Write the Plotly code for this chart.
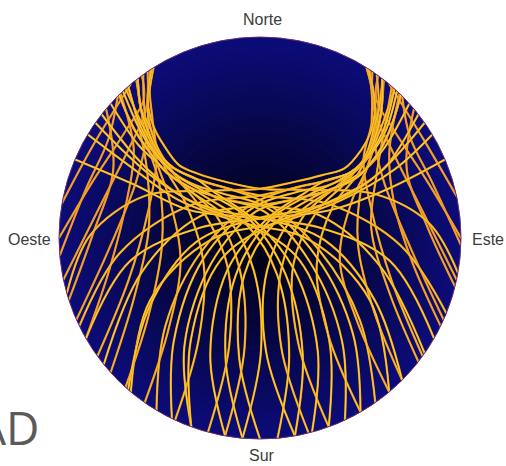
import plotly.graph_objects as go

# ---- Sky tracks (azimuth deg clockwise from North, elevation deg) ----
# passes that leave the sky towards the north-west
west_az = [
    [100, 85, 69, 46, 1, 329.5, 316, 312, 314, 316, 319.5, 323.5, 327.5],
    [112, 93, 64, 1, 326, 313, 309, 310.5, 314, 317.5, 322.5],
    [125, 103, 69, 2, 317, 306, 305, 308, 311, 315.5],
    [135, 118.5, 92, 3, 305, 298, 300, 303, 308],
    [145, 129.5, 101.5, 15, 326, 313, 309, 310.5, 314, 317.5, 322.5],
    [155, 141.5, 116, 9, 317, 306, 305, 308, 311, 315.5],
    [165, 153, 133, 342, 315, 313, 309, 310.5, 314, 317.5, 322.5],
    [175, 166, 155, 315, 307, 305, 308, 311, 315.5],
    [185, 179.5, 190.5, 300, 304, 306, 307.5, 312],
    [195, 196, 231, 295, 306, 311, 315.5, 317.5, 322.5],
    [205, 211, 244, 294, 306, 313, 318.5, 323.5, 328],
    [215, 225, 254, 293, 307, 315, 320, 324.5],
    [228, 244, 274, 301, 313, 319],
    [240, 258, 286, 305, 316],
    [252, 271, 295, 310],
    [265, 285.5, 303, 315],
    [280, 299, 320],
    [150, 136, 109, 12, 320, 309, 307, 309, 312.5, 317],
    [170, 160, 145, 330, 311, 307, 309, 313, 319],
    [190, 188, 212, 297, 305, 309, 313, 318],
    [222, 235, 266, 298, 310, 317, 322],
    [258, 280, 304, 318.5, 326],
    [270, 289, 309, 320, 324],
    [246, 265.5, 295, 314, 322, 327],
    [234, 252, 284, 307, 318, 323.5, 328],
    [160, 146, 119, 320, 298, 300, 305],
    [140, 119.5, 92, 307, 295, 299, 301],
    [120, 100, 80, 331, 291.5, 293, 293],
]
west_el = [
    [0, 14, 35, 59, 68, 61, 50, 41, 30, 22, 13, 6, 0],
    [0, 27, 55.5, 71, 63, 51.5, 40, 29, 20, 11, 0],
    [0, 35, 61.5, 75.5, 66, 52, 39, 27, 15, 0],
    [0, 31.5, 61, 81, 69, 52, 38, 24, 0],
    [0, 32, 63, 74.5, 63, 51.5, 40, 29, 20, 11, 0],
    [0, 31, 65, 78, 66, 52, 39, 27, 15, 0],
    [0, 33, 69, 81.5, 61, 51.5, 40, 29, 20, 11, 0],
    [0, 36, 72, 82, 58.5, 39, 27, 15, 0],
    [0, 39.5, 75, 74, 51, 34, 21, 0],
    [0, 40, 71, 62, 44, 30, 19, 11, 0],
    [0, 36.5, 62, 54, 38, 25, 14, 7, 0],
    [0, 32, 53, 46, 31.5, 18, 9, 0],
    [0, 27, 40, 31, 15.5, 0],
    [0, 21, 28, 21, 0],
    [0, 15, 17.5, 0],
    [0, 9, 9, 0],
    [0, 4.5, 0],
    [0, 30, 63, 76, 64, 52, 40, 28, 16, 0],
    [0, 34, 70, 80, 60, 45, 30, 17, 0],
    [0, 40, 73, 68, 48, 32, 20, 0],
    [0, 29, 46, 39, 24, 12, 0],
    [0, 16.5, 19, 13, 0],
    [0, 11, 13, 9, 0],
    [0, 22, 29, 20, 8.5, 0],
    [0, 28, 38.5, 32, 18, 7, 0],
    [0, 34.5, 70, 82, 59, 32.5, 0],
    [0, 33.5, 68, 78, 50, 22.5, 0],
    [0, 31, 63, 79.5, 55.5, 28.5, 0],
]

# passes that leave the sky towards the north-east
east_az = [
    [254, 271, 290, 313, 359, 30.5, 45, 50.5, 49, 46.5, 42, 37, 32.5],
    [244, 264, 295, 359, 34, 48.5, 54, 52.5, 48, 43.5, 37.5],
    [231, 254, 290, 358, 43, 55.5, 58, 55, 50.5, 44.5],
    [221, 238, 266, 357, 55, 63.5, 63, 60, 52],
    [211, 227, 257, 345, 34, 48.5, 54, 52.5, 48, 43.5, 37.5],
    [200, 215, 242, 351, 43, 55.5, 58, 55, 50.5, 44.5],
    [190, 203, 225, 18, 45, 48.5, 54, 52.5, 48, 43.5, 37.5],
    [180, 190, 203, 45, 53, 58, 55, 50.5, 44.5],
    [170, 177, 168, 60, 56, 57, 54, 48],
    [160, 160, 128, 65, 57, 52, 46, 42.5, 37.5],
    [150, 145, 115, 66, 57, 50, 43, 37.5, 32],
    [140, 131, 105, 68.5, 56, 46.5, 41, 35.5],
    [128, 113, 85, 62, 48.5, 41],
    [116, 99, 76, 57, 44],
    [104, 86, 65, 50],
    [92, 72, 56, 45],
    [78, 59, 40],
    [206, 220, 250, 348, 38, 52, 55, 53, 49.5, 43],
    [185, 196, 213, 30, 49, 54, 53, 49, 42],
    [166, 169, 146, 63, 56, 54, 49, 42],
    [135, 123, 94, 63, 51, 44, 38],
    [102, 80, 56, 41.5, 34],
    [90, 71, 51, 40, 36],
    [114, 94.5, 65, 46, 38, 33],
    [126, 108, 76, 53, 44, 37, 32],
    [200, 214, 241, 40, 62, 62, 55],
    [220, 240.5, 268, 53, 65, 63, 59],
    [240, 260, 280, 29, 68.5, 69, 67],
]
east_el = [
    [0, 14, 35, 59, 68, 61, 50, 41, 30, 22, 13, 6, 0],
    [0, 27, 55.5, 71, 63, 51.5, 40, 29, 20, 11, 0],
    [0, 35, 61.5, 75.5, 66, 52, 39, 27, 15, 0],
    [0, 31.5, 61, 81, 69, 52, 38, 24, 0],
    [0, 32, 63, 74.5, 63, 51.5, 40, 29, 20, 11, 0],
    [0, 31, 65, 78, 66, 52, 39, 27, 15, 0],
    [0, 33, 69, 81.5, 61, 51.5, 40, 29, 20, 11, 0],
    [0, 36, 72, 82, 58.5, 39, 27, 15, 0],
    [0, 39.5, 75, 74, 51, 34, 21, 0],
    [0, 40, 71, 62, 44, 30, 19, 11, 0],
    [0, 36.5, 62, 54, 38, 25, 14, 7, 0],
    [0, 32, 53, 46, 31.5, 18, 9, 0],
    [0, 27, 40, 31, 15.5, 0],
    [0, 21, 28, 21, 0],
    [0, 15, 17.5, 0],
    [0, 9, 9, 0],
    [0, 4.5, 0],
    [0, 30, 63, 76, 64, 52, 40, 28, 16, 0],
    [0, 34, 70, 80, 60, 45, 30, 17, 0],
    [0, 40, 73, 68, 48, 32, 20, 0],
    [0, 29, 46, 39, 24, 12, 0],
    [0, 16.5, 19, 13, 0],
    [0, 11, 13, 9, 0],
    [0, 22, 29, 20, 8.5, 0],
    [0, 28, 38.5, 32, 18, 7, 0],
    [0, 34.5, 70, 82, 59, 32.5, 0],
    [0, 33.5, 68, 78, 50, 22.5, 0],
    [0, 31, 63, 79.5, 55.5, 28.5, 0],
]

direction_text = ["Norte", "Este", "Sur", "Oeste"]

fig = go.Figure()

# sky background: dark centre fading to navy at the horizon
n_rings = 30
inner_rgb = (0, 0, 12)
outer_rgb = (12, 12, 120)
for i in range(n_rings, 0, -1):
    t = i / n_rings
    col = tuple(int(round(a + (b - a) * t)) for a, b in zip(inner_rgb, outer_rgb))
    fig.add_trace(go.Barpolar(
        r=[90 * t] * 4, theta=[45, 135, 225, 315], width=[91] * 4,
        marker=dict(color="rgb(%d,%d,%d)" % col, line=dict(width=0)),
        hoverinfo="skip", showlegend=False))


def core_color(el):
    m = max(el)
    if m >= 75:
        return "#FAD12C"
    if m >= 60:
        return "#F8C626"
    if m >= 35:
        return "#F5B428"
    return "#F3A22C"


tracks = list(zip(west_az, west_el)) + list(zip(east_az, east_el))
tracks.sort(key=lambda p: max(p[1]))
for az, el in tracks:
    rr = [90 - e for e in el]
    fig.add_trace(go.Scatterpolar(
        theta=az, r=rr, mode="lines",
        line=dict(color="#E8921E", width=2.2, shape="spline"),
        hoverinfo="skip", showlegend=False))
    fig.add_trace(go.Scatterpolar(
        theta=az, r=rr, mode="lines",
        line=dict(color=core_color(el), width=1.3, shape="spline"),
        hoverinfo="skip", showlegend=False))

label_font = dict(family="Liberation Sans, Arial, sans-serif", size=16, color="#3c3c3c")
annotations = [
    dict(text=direction_text[0], x=0.5178, y=0.9592, xanchor="center", yanchor="middle"),
    dict(text=direction_text[1], x=0.9289, y=0.4871, xanchor="left", yanchor="middle"),
    dict(text=direction_text[2], x=0.5178, y=0.0236, xanchor="center", yanchor="middle"),
    dict(text=direction_text[3], x=0.1047, y=0.4871, xanchor="right", yanchor="middle"),
]
for a in annotations:
    a.update(xref="paper", yref="paper", showarrow=False, font=label_font)
annotations.append(dict(text="AD", xref="paper", yref="paper", x=0.081, y=0.0837,
                        xanchor="right", yanchor="middle", showarrow=False,
                        font=dict(family="Open Sans, sans-serif", size=46, color="#5a5a5a")))

fig.update_layout(
    width=506, height=466,
    margin=dict(l=0, r=0, t=0, b=0),
    paper_bgcolor="white",
    showlegend=False,
    polar=dict(
        domain=dict(x=[0.1166, 0.9111], y=[0.0579, 0.9206]),
        bgcolor="#0c0c78",
        barmode="overlay",
        radialaxis=dict(range=[0, 90], showticklabels=False, ticks="",
                        showline=False, showgrid=True, tickvals=[30, 60],
                        gridcolor="rgba(70,70,170,0.22)", gridwidth=1),
        angularaxis=dict(rotation=90, direction="clockwise",
                         tickvals=[0, 90, 180, 270], showticklabels=False,
                         ticks="", showline=True, linecolor="#6a2f73", linewidth=1,
                         showgrid=True, gridcolor="rgba(70,70,170,0.28)"),
    ),
    annotations=annotations,
)

fig.write_html("out.html", config={"displayModeBar": False},
               post_script="document.body.style.margin='0';")
